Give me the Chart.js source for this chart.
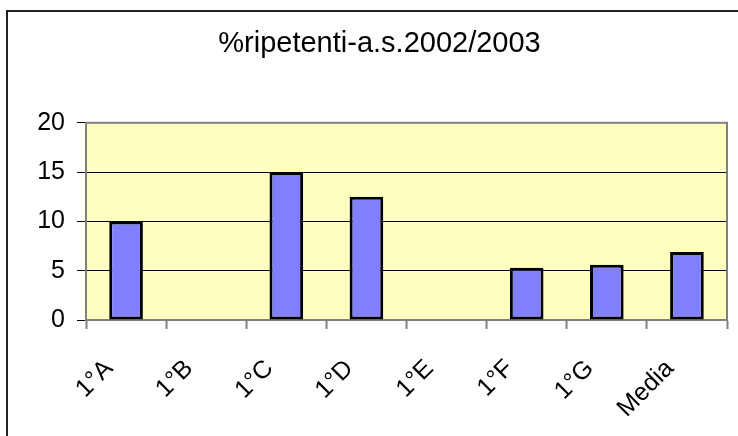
<!DOCTYPE html>
<html lang="it">
<head>
    <meta charset="UTF-8">
    <title>%ripetenti-a.s.2002/2003</title>
    <style>
        html, body { margin: 0; padding: 0; background: #fff; overflow: hidden; }
        /* outer chart frame (only left/top visible in the crop) */
        .frame {
            position: absolute; left: 6px; top: 10px;
            width: 800px; height: 500px;
            border-left: 2px solid #222; border-top: 2px solid #222;
        }
        .wrap { position: absolute; left: 0; top: 0; width: 738px; height: 436px; }
    </style>
</head>
<body>
    <div class="frame"></div>
    <div class="wrap"><canvas id="myChart" width="738" height="436"></canvas></div>
    <script src="https://cdn.jsdelivr.net/npm/chart.js"></script>
    <script>
        // data
        var classi = ["1°A", "1°B", "1°C", "1°D", "1°E", "1°F", "1°G", "Media"];
        var ripetenti = [10, 0, 15, 12.5, 0, 5.3, 5.6, 6.9];
        var yTicks = [0, 5, 10, 15, 20];

        var FONT = "'Liberation Sans', Arial, sans-serif";

        // yellow plot area + grey frame
        var plotArea = {
            id: "plotArea",
            beforeDraw: function (chart) {
                var a = chart.chartArea, c = chart.ctx;
                c.save();
                c.fillStyle = "#FFFFC0";
                c.fillRect(a.left, a.top, a.right - a.left, a.bottom - a.top);
                c.restore();
            },
            beforeDatasetsDraw: function (chart) {
                var a = chart.chartArea, c = chart.ctx;
                c.save();
                c.strokeStyle = "#808080";
                c.lineWidth = 2;
                c.strokeRect(a.left, a.top, a.right - a.left, a.bottom - a.top);
                c.restore();
            }
        };

        var ctx = document.getElementById("myChart").getContext("2d");
        var myChart = new Chart(ctx, {
            type: "bar",
            data: {
                labels: classi,
                datasets: [{
                    data: ripetenti,
                    backgroundColor: "#8080FF",
                    borderColor: "#000000",
                    borderWidth: 3,
                    borderSkipped: false,
                    categoryPercentage: 1,
                    barPercentage: 0.42
                }]
            },
            options: {
                responsive: false,
                animation: false,
                layout: { padding: { left: 32, right: 11, top: 0, bottom: 0 } },
                plugins: {
                    legend: { display: false },
                    tooltip: { enabled: false },
                    title: {
                        display: true,
                        text: "%ripetenti-a.s.2002/2003",
                        color: "#000",
                        font: { family: FONT, size: 29, weight: "normal" },
                        padding: { top: 27, bottom: 61 }
                    }
                },
                scales: {
                    x: {
                        grid: {
                            offset: true,
                            drawOnChartArea: false,
                            color: "#808080",
                            tickLength: 9,
                            tickWidth: 2
                        },
                        border: { color: "#808080", width: 2 },
                        ticks: {
                            color: "#000",
                            font: { family: FONT, size: 25 },
                            minRotation: 45,
                            maxRotation: 45,
                            padding: 25,
                            labelOffset: -17
                        },
                        afterFit: function (scale) { scale.height = 116; }
                    },
                    y: {
                        min: 0,
                        max: 20,
                        afterBuildTicks: function (scale) {
                            scale.ticks = yTicks.map(function (v) { return { value: v }; });
                        },
                        grid: { color: "#000", lineWidth: 1, tickLength: 9 },
                        border: { color: "#808080", width: 2 },
                        ticks: {
                            color: "#000",
                            font: { family: FONT, size: 25 },
                            padding: 12
                        },
                        afterFit: function (scale) { scale.width = 54; }
                    }
                }
            },
            plugins: [plotArea]
        });
    </script>
</body>
</html>
